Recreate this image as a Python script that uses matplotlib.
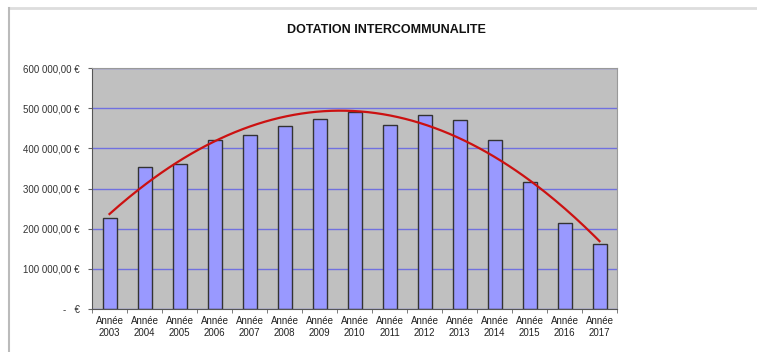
import numpy as np
import matplotlib.pyplot as plt
import matplotlib.ticker as plticker
from matplotlib.lines import Line2D

plt.rcParams['font.family'] = ['Liberation Sans', 'DejaVu Sans']

annees = [2003, 2004, 2005, 2006, 2007, 2008, 2009, 2010,
          2011, 2012, 2013, 2014, 2015, 2016, 2017]
dotation = [226000, 353000, 361000, 420000, 433000, 455000, 472000, 490000,
            458000, 483000, 471000, 420000, 316000, 214000, 162000]
labels = ['Année\n%d' % a for a in annees]

x = np.arange(len(annees))

fig = plt.figure(figsize=(7.57, 3.52), dpi=100)
ax = fig.add_axes([92/757, 1 - 309/352, 525/757, 241/352])
ax.set_facecolor('#c0c0c0')

# grille horizontale
ax.yaxis.set_major_locator(plticker.MultipleLocator(100000))
ax.grid(axis='y', color='#7070e0', linewidth=1)
ax.set_axisbelow(True)

ax.bar(x, dotation, 0.4, color='#9999ff', edgecolor='#333333', linewidth=1, zorder=2)

# courbe de tendance polynomiale (ordre 2)
coef = np.polyfit(x, dotation, 2)
xt = np.linspace(x[0], x[-1], 200)
ax.plot(xt, np.polyval(coef, xt), color='#cc1111', linewidth=1.6, zorder=3)

ax.set_xlim(-0.5, len(annees) - 0.5)
ax.set_ylim(0, 600000)

def euro(v, pos):
    if v == 0:
        return '-   €'
    return '{:,.2f} €'.format(v).replace(',', ' ').replace('.', ',')

ax.yaxis.set_major_formatter(plticker.FuncFormatter(euro))
ax.set_xticks(x, labels)
ax.set_xticks(np.arange(-0.5, len(annees)), minor=True)
ax.tick_params(axis='x', which='major', length=0, pad=5, labelsize=7, labelcolor='#222222')
ax.tick_params(axis='x', which='minor', length=3, color='#666666')
ax.tick_params(axis='y', length=3, color='#666666', labelsize=7, labelcolor='#333333', pad=6)

for s in ['top', 'right']:
    ax.spines[s].set_color('#999999')
    ax.spines[s].set_linewidth(0.8)
for s in ['left', 'bottom']:
    ax.spines[s].set_color('#555555')
    ax.spines[s].set_linewidth(0.8)

fig.text(386/757, 1 - 30/352, 'DOTATION INTERCOMMUNALITE', ha='center', va='center',
         fontsize=9, fontweight='bold', color='#111111')

# cadre du graphique
fig.add_artist(Line2D([9/757, 1], [1 - 8/352, 1 - 8/352], color='#dddddd', linewidth=2,
                      transform=fig.transFigure))
fig.add_artist(Line2D([9/757, 9/757], [0, 1 - 8/352], color='#bbbbbb', linewidth=1.5,
                      transform=fig.transFigure))

fig.savefig('out.png', dpi=100)
